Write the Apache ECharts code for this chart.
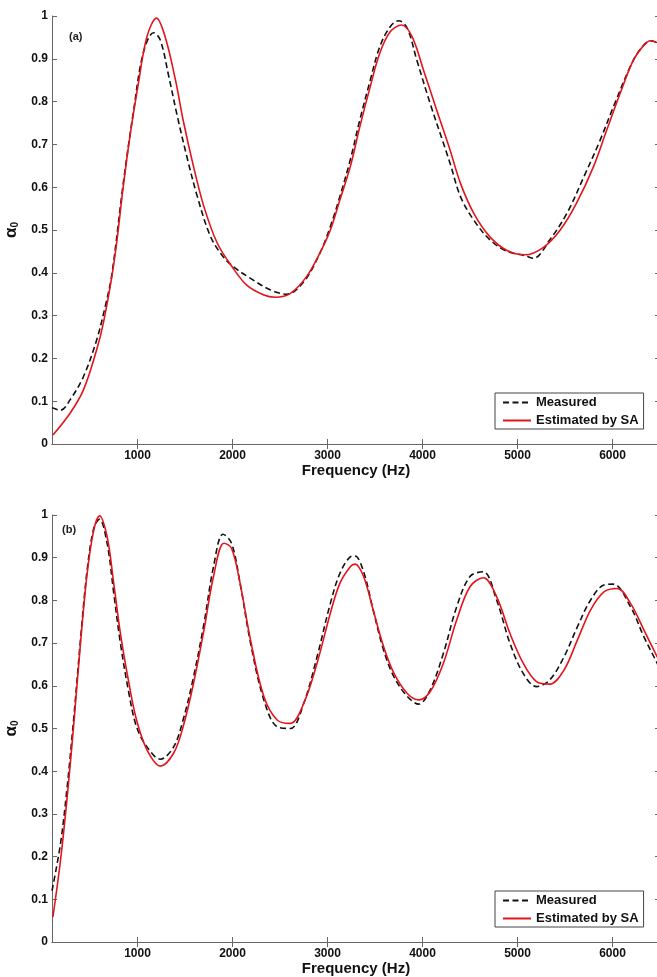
<!DOCTYPE html>
<html>
<head>
<meta charset="utf-8">
<script src="https://cdn.jsdelivr.net/npm/echarts@6/dist/echarts.min.js"></script>
<style>
  html, body { margin: 0; padding: 0; background: #fff; }
  #chart { width: 657px; height: 977px; }
</style>
</head>
<body>
<div id="chart"></div>
<script>
// panel (a)
var freqEstA = [110, 290, 430, 570, 640, 730, 780, 850, 920, 1010, 1100, 1200, 1290, 1400, 1480, 1590, 1700, 1840, 1990, 2150, 2330, 2450, 2610, 2780, 2920, 3030, 3130, 3240, 3340, 3450, 3550, 3660, 3780, 3890, 4010, 4150, 4290, 4400, 4540, 4710, 4890, 5080, 5270, 5450, 5620, 5800, 5940, 6080, 6220, 6330, 6400, 6500]
var estA = [0.021, 0.072, 0.126, 0.22, 0.282, 0.391, 0.469, 0.601, 0.718, 0.843, 0.952, 0.995, 0.952, 0.85, 0.757, 0.648, 0.554, 0.469, 0.416, 0.371, 0.348, 0.343, 0.352, 0.391, 0.446, 0.5, 0.57, 0.648, 0.741, 0.835, 0.913, 0.963, 0.979, 0.952, 0.874, 0.78, 0.687, 0.609, 0.539, 0.484, 0.452, 0.442, 0.459, 0.5, 0.562, 0.648, 0.734, 0.819, 0.897, 0.932, 0.942, 0.935]
var freqMeasA = [100, 190, 290, 430, 570, 660, 730, 850, 960, 1060, 1170, 1240, 1330, 1420, 1520, 1630, 1770, 1900, 2010, 2190, 2400, 2570, 2750, 2920, 3030, 3130, 3240, 3340, 3450, 3550, 3660, 3750, 3840, 3940, 4080, 4220, 4290, 4400, 4540, 4710, 4890, 5080, 5170, 5340, 5520, 5700, 5870, 6010, 6220, 6330, 6400, 6500]
var measA = [0.085, 0.079, 0.103, 0.157, 0.243, 0.321, 0.396, 0.609, 0.78, 0.913, 0.961, 0.944, 0.858, 0.765, 0.671, 0.578, 0.484, 0.438, 0.414, 0.387, 0.36, 0.35, 0.379, 0.446, 0.508, 0.578, 0.664, 0.757, 0.85, 0.928, 0.975, 0.989, 0.971, 0.897, 0.796, 0.703, 0.656, 0.578, 0.523, 0.477, 0.45, 0.44, 0.434, 0.477, 0.539, 0.625, 0.71, 0.788, 0.897, 0.932, 0.942, 0.935]

// panel (b)
var freqEstB = [110, 190, 260, 330, 400, 470, 540, 600, 680, 750, 820, 910, 990, 1100, 1240, 1380, 1480, 1590, 1700, 1800, 1910, 1990, 2080, 2190, 2330, 2470, 2610, 2750, 2890, 3030, 3130, 3240, 3290, 3380, 3480, 3590, 3700, 3840, 3960, 4080, 4220, 4360, 4500, 4640, 4780, 4920, 5060, 5200, 5340, 5490, 5630, 5770, 5910, 6050, 6190, 6330, 6470, 6500]
var estB = [0.059, 0.192, 0.34, 0.512, 0.7, 0.863, 0.965, 0.998, 0.949, 0.84, 0.723, 0.606, 0.52, 0.45, 0.412, 0.442, 0.504, 0.606, 0.731, 0.856, 0.934, 0.922, 0.84, 0.707, 0.575, 0.52, 0.512, 0.559, 0.653, 0.77, 0.84, 0.879, 0.885, 0.856, 0.778, 0.692, 0.629, 0.582, 0.567, 0.586, 0.653, 0.754, 0.832, 0.853, 0.809, 0.723, 0.653, 0.61, 0.604, 0.637, 0.707, 0.778, 0.82, 0.828, 0.793, 0.731, 0.668, 0.655]
var freqMeasB = [100, 190, 260, 330, 400, 470, 540, 600, 680, 750, 820, 910, 990, 1100, 1240, 1380, 1480, 1590, 1700, 1800, 1900, 1990, 2080, 2190, 2330, 2470, 2610, 2750, 2890, 3030, 3130, 3240, 3290, 3380, 3480, 3590, 3700, 3840, 3960, 4080, 4220, 4360, 4500, 4640, 4780, 4920, 5060, 5200, 5340, 5490, 5630, 5770, 5910, 6010, 6190, 6330, 6470, 6500]
var measB = [0.12, 0.231, 0.364, 0.527, 0.708, 0.871, 0.969, 0.99, 0.934, 0.817, 0.7, 0.582, 0.504, 0.457, 0.428, 0.457, 0.52, 0.621, 0.746, 0.879, 0.955, 0.934, 0.84, 0.7, 0.567, 0.504, 0.5, 0.559, 0.668, 0.793, 0.863, 0.902, 0.904, 0.867, 0.778, 0.684, 0.621, 0.575, 0.557, 0.59, 0.676, 0.785, 0.856, 0.867, 0.801, 0.7, 0.629, 0.598, 0.614, 0.668, 0.738, 0.801, 0.836, 0.838, 0.785, 0.715, 0.653, 0.64]

var freqTicks = [1000, 2000, 3000, 4000, 5000, 6000]
var seriesNames = ['Measured', 'Estimated by SA']

var FONT = 'Liberation Sans, Arial, sans-serif'
var axisClr = '#666'

function pairs (xs, ys) {
  return xs.map(function (x, i) { return [x, ys[i]] })
}

function xAx (grid, pos) {
  return {
    type: 'value',
    gridIndex: grid,
    position: pos,
    min: 100,
    max: 6500,
    name: pos === 'bottom' ? 'Frequency (Hz)' : '',
    nameLocation: 'middle',
    nameGap: 19,
    nameTextStyle: { fontFamily: FONT, fontWeight: 'bold', fontSize: 15, color: '#111' },
    axisLine: { show: true, lineStyle: { color: axisClr, width: 1 } },
    axisTick: { show: true, inside: true, length: 5, customValues: freqTicks, lineStyle: { color: axisClr } },
    axisLabel: {
      show: pos === 'bottom',
      customValues: freqTicks,
      formatter: function (v) { return String(v) },
      margin: 6,
      fontFamily: FONT,
      fontWeight: 'bold',
      fontSize: 12,
      color: '#111'
    },
    splitLine: { show: false }
  }
}

function yAx (grid, pos) {
  return {
    type: 'value',
    gridIndex: grid,
    position: pos,
    min: 0,
    max: 1,
    interval: 0.1,
    name: pos === 'left' ? '{a|α}{b|0}' : '',
    nameLocation: 'middle',
    nameRotate: 90,
    nameGap: 29,
    nameTextStyle: {
      color: '#111',
      rich: {
        a: { fontFamily: FONT, fontWeight: 'bold', fontSize: 17, color: '#111' },
        b: { fontFamily: FONT, fontWeight: 'bold', fontSize: 10, color: '#111', padding: [8, 0, 0, 0] }
      }
    },
    axisLine: { show: true, lineStyle: { color: axisClr, width: 1 } },
    axisTick: { show: true, inside: true, length: 5, lineStyle: { color: axisClr } },
    axisLabel: {
      show: pos === 'left',
      margin: 4,
      fontFamily: FONT,
      fontWeight: 'bold',
      fontSize: 12,
      color: '#111'
    },
    splitLine: { show: false }
  }
}

function lineSeries (name, data, xi, yi) {
  var measured = name === 'Measured'
  return {
    name: name,
    type: 'line',
    xAxisIndex: xi,
    yAxisIndex: yi,
    data: data,
    smooth: 0.35,
    symbol: 'none',
    z: measured ? 2 : 3,
    lineStyle: measured
      ? { color: '#111', width: 1.6, type: [6, 3.5] }
      : { color: '#e3141b', width: 1.6 },
    itemStyle: { color: measured ? '#111' : '#e3141b' }
  }
}

function legendBox (top) {
  return {
    data: seriesNames,
    orient: 'vertical',
    left: 495,
    top: top,
    padding: [3, 5, 2, 7],
    itemGap: 5,
    itemWidth: 28,
    itemHeight: 14,
    borderColor: '#444',
    borderWidth: 1,
    backgroundColor: '#fff',
    itemStyle: { opacity: 0 },
    textStyle: { fontFamily: FONT, fontWeight: 'bold', fontSize: 13, color: '#111' }
  }
}

var chart = echarts.init(document.getElementById('chart'), null, { renderer: 'canvas' })

var option = {
  backgroundColor: '#fff',
  animation: false,
  title: [
    { text: '(a)', left: 64, top: 26, textStyle: { fontFamily: FONT, fontWeight: 'bold', fontSize: 11, color: '#222' } },
    { text: '(b)', left: 57, top: 519, textStyle: { fontFamily: FONT, fontWeight: 'bold', fontSize: 11, color: '#222' } }
  ],
  grid: [
    { left: 52, top: 16, width: 608, height: 428, outerBoundsMode: 'none' },
    { left: 52, top: 515, width: 608, height: 427, outerBoundsMode: 'none' }
  ],
  xAxis: [xAx(0, 'bottom'), xAx(0, 'top'), xAx(1, 'bottom'), xAx(1, 'top')],
  yAxis: [yAx(0, 'left'), yAx(0, 'right'), yAx(1, 'left'), yAx(1, 'right')],
  legend: [legendBox(393), legendBox(891)],
  series: [
    lineSeries('Measured', pairs(freqMeasA, measA), 0, 0),
    lineSeries('Estimated by SA', pairs(freqEstA, estA), 0, 0),
    lineSeries('Measured', pairs(freqMeasB, measB), 2, 2),
    lineSeries('Estimated by SA', pairs(freqEstB, estB), 2, 2)
  ]
}

chart.setOption(option)
</script>
</body>
</html>
